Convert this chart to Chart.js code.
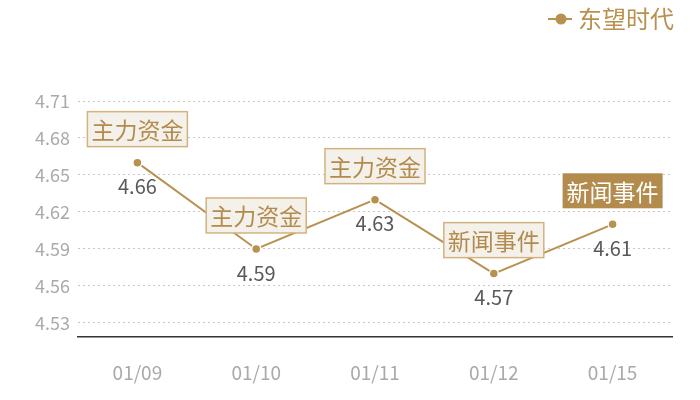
<!DOCTYPE html>
<html><head><meta charset="utf-8">
<script src="https://cdn.jsdelivr.net/npm/chart.js@4"></script>
<style>html,body{margin:0;padding:0;background:#fff}#wrap{width:700px;height:400px}</style>
</head><body><div id="wrap"><canvas id="c" width="700" height="400"></canvas></div>
<script>
const categories = ['01/09','01/10','01/11','01/12','01/15'];
const seriesName = '东望时代';
const values = [4.66, 4.59, 4.63, 4.57, 4.61];
const eventLabels = ['主力资金','主力资金','主力资金','新闻事件','新闻事件'];
const eventHighlight = [false,false,false,false,true];
const yTicks = [4.53,4.56,4.59,4.62,4.65,4.68,4.71];

const FONT = '"Noto Sans CJK SC", "Noto Sans", sans-serif';
const GOLD = '#b8914f';

const eventPlugin = {
  id: 'events',
  afterDatasetsDraw(chart) {
    const ctx = chart.ctx;
    const meta = chart.getDatasetMeta(0);
    meta.data.forEach((pt, i) => {
      const txt = eventLabels[i];
      if (!txt) return;
      ctx.save();
      ctx.font = '23px ' + FONT;
      const w = 100, h = 35;
      const x = pt.x - w/2, y = pt.y - 16 - h;
      if (eventHighlight[i]) {
        ctx.fillStyle = '#b38b4d';
        ctx.fillRect(x, y, w, h);
        ctx.fillStyle = '#ffffff';
      } else {
        ctx.fillStyle = '#f4f0ea';
        ctx.fillRect(x, y, w, h);
        ctx.strokeStyle = '#d2b37f';
        ctx.lineWidth = 1.5;
        ctx.strokeRect(x, y, w, h);
        ctx.fillStyle = '#b38b4d';
      }
      ctx.textAlign = 'center';
      ctx.textBaseline = 'middle';
      ctx.fillText(txt, pt.x, y + h/2 + 1);
      ctx.restore();
    });
  }
};

const valueLabelPlugin = {
  id: 'valueLabels',
  afterDatasetsDraw(chart) {
    const ctx = chart.ctx;
    const meta = chart.getDatasetMeta(0);
    ctx.save();
    ctx.font = '20px ' + FONT;
    ctx.fillStyle = '#595959';
    ctx.textAlign = 'center';
    ctx.textBaseline = 'middle';
    meta.data.forEach((pt, i) => {
      ctx.fillText(values[i].toFixed(2), pt.x, pt.y + 24);
    });
    ctx.restore();
  }
};

const legendPlugin = {
  id: 'customLegend',
  afterDraw(chart) {
    const ctx = chart.ctx;
    ctx.save();
    ctx.strokeStyle = GOLD;
    ctx.lineWidth = 2;
    ctx.beginPath(); ctx.moveTo(548, 19); ctx.lineTo(572, 19); ctx.stroke();
    ctx.fillStyle = GOLD;
    ctx.beginPath(); ctx.arc(561, 19, 5.5, 0, Math.PI*2); ctx.fill();
    ctx.font = '24px ' + FONT;
    ctx.textAlign = 'left';
    ctx.textBaseline = 'middle';
    ctx.fillText(seriesName, 578, 19);
    ctx.restore();
  }
};

new Chart(document.getElementById('c'), {
  type: 'line',
  data: {
    labels: categories,
    datasets: [{
      label: seriesName,
      data: values,
      borderColor: GOLD,
      backgroundColor: GOLD,
      borderWidth: 2,
      pointRadius: 4.5,
      pointBackgroundColor: GOLD,
      pointBorderColor: '#ffffff',
      pointBorderWidth: 1.5,
      tension: 0
    }]
  },
  options: {
    responsive: false,
    animation: false,
    layout: { padding: { left: 0, right: 28, top: 101, bottom: 0 } },
    plugins: {
      legend: { display: false },
      tooltip: { enabled: false }
    },
    scales: {
      x: {
        offset: true,
        grid: { display: false, drawTicks: false },
        border: { display: true, color: '#333', width: 1.5 },
        ticks: { color: '#aaaaaa', font: { size: 19, family: FONT }, padding: 24 },
        afterFit(scale) { scale.height = 63; }
      },
      y: {
        min: 4.5186,
        max: 4.71,
        afterBuildTicks(scale) { scale.ticks = yTicks.map(v => ({ value: v })); },
        afterFit(scale) { scale.width = 78; },
        grid: { color: '#c8c8c8', drawTicks: false, lineWidth: 1 },
        border: { display: false, dash: [2, 3] },
        ticks: {
          color: '#aaaaaa', font: { size: 18, family: FONT }, padding: 8,
          callback: v => Number(v).toFixed(2)
        }
      }
    }
  },
  plugins: [eventPlugin, valueLabelPlugin, legendPlugin]
});
</script>
</body></html>
